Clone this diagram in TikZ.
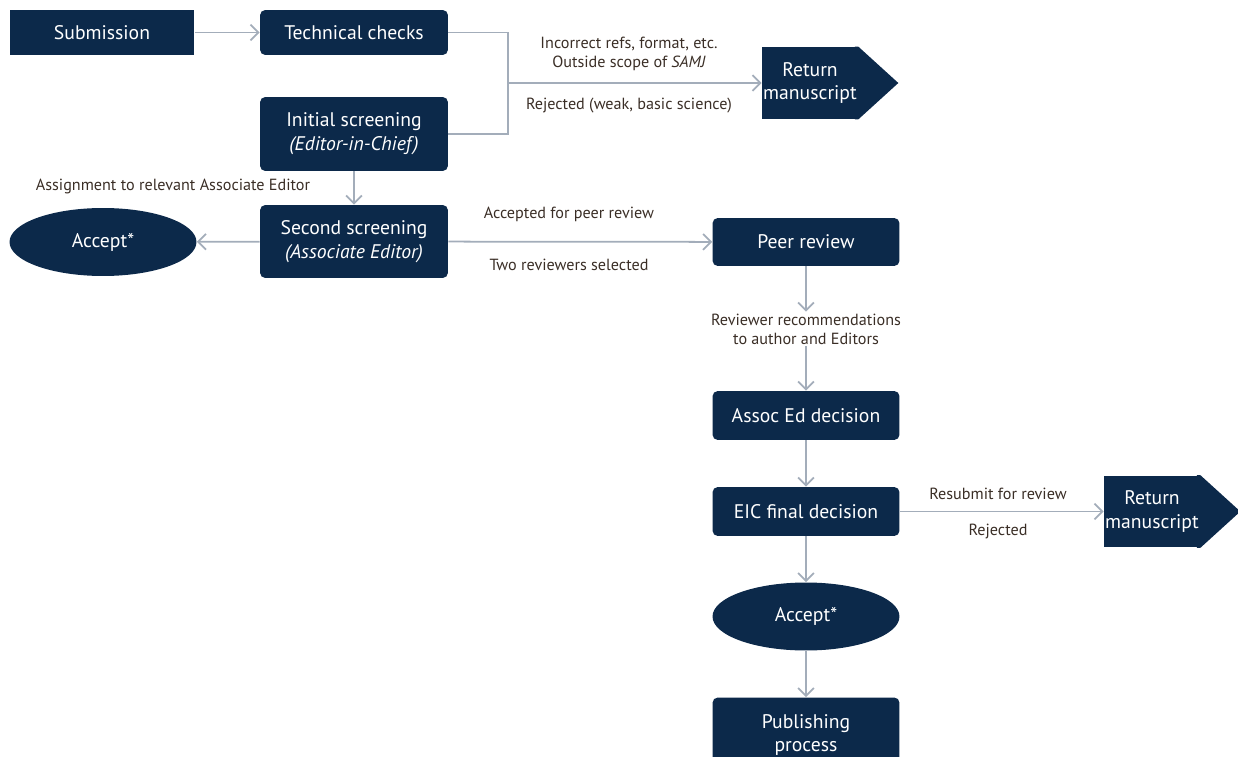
\documentclass[tikz,border=0pt]{standalone}
\usepackage{fontspec}
\setmainfont{PT Sans}
\usetikzlibrary{arrows.meta,shapes.geometric}
\pgfdeclarelayer{background}
\pgfsetlayers{background,main}
\definecolor{navy}{RGB}{12,41,74}
\definecolor{flow}{RGB}{163,173,186}
\definecolor{note}{RGB}{58,46,38}
\tikzset{
  >={Straight Barb[length=4.5pt,width=9pt]},
  stage/.style={fill=navy, text=white, rounded corners=3pt, inner sep=0pt,
    align=center, font=\fontsize{11.2}{13.5}\selectfont},
  ovalstage/.style={ellipse, fill=navy, text=white, inner sep=0pt,
    minimum width=3.74cm, minimum height=1.36cm, font=\fontsize{11.2}{13.5}\selectfont},
  retbox/.style={fill=navy, text=white, inner sep=0pt, align=center,
    minimum width=1.92cm, minimum height=1.44cm, font=\fontsize{11.2}{13.5}\selectfont},
  note/.style={text=note, align=center, inner sep=1pt, font=\fontsize{9.2}{10.8}\selectfont},
}

\begin{document}
\begin{tikzpicture}[x=0.02cm,y=-0.02cm]
    \useasboundingbox (0,0) rectangle (1238,757);
    \clip (0,0) rectangle (1238,757);

    % first column
    \node[stage, rounded corners=0pt, minimum width=3.7cm, minimum height=0.9cm] (sub) at (102,32.5) {Submission};
    \node[stage, minimum width=3.76cm, minimum height=0.9cm] (tech) at (354,32.5) {Technical checks};
    \node[stage, minimum width=3.76cm, minimum height=1.48cm] (init) at (354,134) {Initial screening\\\textit{(Editor-in-Chief)}};
    \node[stage, minimum width=3.76cm, minimum height=1.46cm] (second) at (354,241.5) {Second screening\\\textit{(Associate Editor)}};
    \node[ovalstage] (acc1) at (103,242) {Accept*};

    % return after screening
    \node[retbox] (ret1) at (810,83) {Return\\manuscript};
    \coordinate (split) at (508,83);

    % second column
    \node[stage, minimum width=3.74cm, minimum height=0.96cm] (peer) at (806,242) {Peer review};
    \node[note] (recs) at (806,329) {Reviewer recommendations\\to author and Editors};
    \node[stage, minimum width=3.74cm, minimum height=0.98cm] (assoc) at (806,415.5) {Assoc Ed decision};
    \node[stage, minimum width=3.74cm, minimum height=0.98cm] (eic) at (806,511.5) {EIC final decision};
    \node[ovalstage] (acc2) at (806,616.5) {Accept*};
    \node[stage, minimum width=3.74cm, minimum height=1.5cm] (pub) at (806,735) {Publishing\\process};

    % return after final decision
    \node[retbox] (ret2) at (1152,511.5) {Return\\manuscript};

    % pointed ends of the return boxes
    \begin{pgfonlayer}{background}
      \fill[navy] ([xshift=-2pt]ret1.north east) -- (ret1.north east) -- ([xshift=0.8cm]ret1.east) -- (ret1.south east) -- ([xshift=-2pt]ret1.south east) -- cycle;
      \fill[navy] ([xshift=-2pt]ret2.north east) -- (ret2.north east) -- ([xshift=0.8cm]ret2.east) -- (ret2.south east) -- ([xshift=-2pt]ret2.south east) -- cycle;
    \end{pgfonlayer}

    % labels
    \node[note] (lbad) at (629,54) {Incorrect refs, format, etc.\\Outside scope of \textit{SAMJ}};
    \node[note] (lweak) at (629,106) {Rejected (weak, basic science)};
    \node[note] (lassign) at (173,186) {Assignment to relevant Associate Editor};
    \node[note] (lpeer) at (569,214) {Accepted for peer review};
    \node[note] (ltwo) at (569,265) {Two reviewers selected};
    \node[note] (lresub) at (998,494) {Resubmit for review};
    \node[note] (lrej) at (998,531) {Rejected};

    \begin{scope}[flow, line width=1pt]
      \draw[->] (sub) -- (tech);
      \draw (tech.east) -| (split) |- (init.east);
      \draw[->] (split) -- (ret1);
      \draw[->] (init) -- (second);
      \draw[->] (second) -- (acc1);
      \draw[->] (second) -- (peer);
      \draw[->] (peer) -- (recs);
      \draw[->] (recs) -- (assoc);
      \draw[->] (assoc) -- (eic);
      \draw[->] (eic) -- (ret2);
      \draw[->] (eic) -- (acc2);
      \draw[->] (acc2) -- (pub);
    \end{scope}
  \end{tikzpicture}
\end{document}
